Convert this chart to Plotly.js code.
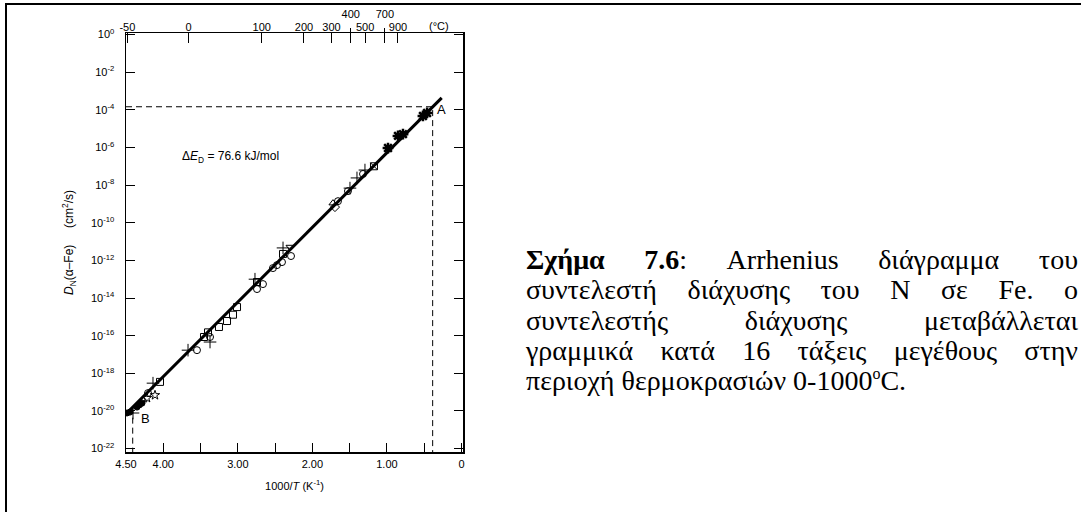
<!DOCTYPE html>
<html><head><meta charset="utf-8">
<script src="https://cdn.plot.ly/plotly-3.0.1.min.js"></script>
<style>
html,body{margin:0;padding:0;background:#fff;}
#wrap{position:relative;width:1081px;height:512px;overflow:hidden;background:#fff;}
#chart{position:absolute;left:0;top:0;width:1081px;height:512px;}
#frame{position:absolute;left:5px;top:3px;width:1200px;height:700px;border-top:2px solid #000;border-left:2px solid #000;pointer-events:none;}
#caption{position:absolute;left:526px;top:245px;width:552px;font-family:"Liberation Serif","Times New Roman",serif;font-size:28px;line-height:30.3px;color:#000;}
#caption div{text-align:justify;text-align-last:justify;white-space:normal;}
#caption div.last{text-align:left;text-align-last:left;}
#caption sup{font-size:16px;line-height:0;vertical-align:11px;}
</style>
</head><body>
<div id="wrap">
<div id="chart"></div>
<div id="frame"></div>
<div id="caption">
<div><b>Σχήμα 7.6</b>: Arrhenius διάγραμμα του</div>
<div>συντελεστή διάχυσης του Ν σε Fe. ο</div>
<div>συντελεστής διάχυσης μεταβάλλεται</div>
<div>γραμμικά κατά 16 τάξεις μεγέθους στην</div>
<div class="last">περιοχή θερμοκρασιών 0-1000<sup>o</sup>C.</div>
</div>
</div>
<script>
// ---- data: x = 1000/T (K^-1), y = D_N(alpha-Fe) (cm^2/s) ----
const circleX = [1.321, 1.523, 1.657, 2.287, 2.408, 2.475, 2.529, 2.743, 2.663, 3.373, 3.548, 4.205];
const circleY = [3.9e-8, 4.8e-9, 1.4e-9, 1.7e-12, 8.1e-13, 5.6e-13, 3.9e-13, 3.0e-14, 5.5e-14, 8.5e-17, 1.7e-17, 8.9e-20];
const squareX = [2.394, 2.743, 3.011, 3.065, 3.145, 3.253, 3.400, 3.454, 4.044];
const squareY = [2.2e-12, 7.1e-14, 3.3e-15, 1.3e-15, 6.0e-16, 2.9e-16, 1.5e-16, 8.5e-17, 3.5e-19];
const crossX = [1.402, 1.295, 1.496, 2.394, 2.770, 3.373, 3.668, 4.138, 4.406];
const crossY = [2.4e-8, 6.3e-8, 6.9e-9, 4.6e-12, 1.0e-13, 4.6e-17, 1.7e-17, 3.0e-19, 7.8e-21];
const starX = [0.517, 0.462, 0.852, 0.785, 0.986];
const starY = [4.7e-5, 6.8e-5, 4.1e-6, 5.1e-6, 9.3e-7];
const openStarX = [4.111, 4.218];
const openStarY = [6.9e-20, 4.9e-20];
const triUpX = [1.724, 4.272];
const triUpY = [1.1e-9, 3.8e-20];
const diamondX = [1.697];
const diamondY = [6.8e-10];
const triDownX = [2.300];
const triDownY = [5.1e-12];
const squareXmarkX = [1.174];
const squareXmarkY = [1.0e-7];
const dotX = [4.285, 4.320, 4.352, 4.446, 4.487];
const dotY = [2.6e-20, 2.1e-20, 1.6e-20, 8.7e-21, 7.8e-21];
const fitX = [4.487, 0.266];
const fitY = [7.8e-21, 4.3e-4];
const pointA = {x: 0.387, y: 1.45e-4};
const pointB = {x: 4.41, y: 1.5e-20};
const yFloor = 6.6e-23;   // bottom of the plotting frame
const xLeft = 4.5;

// tick labels
const yTickVals = [1, 1e-2, 1e-4, 1e-6, 1e-8, 1e-10, 1e-12, 1e-14, 1e-16, 1e-18, 1e-20, 1e-22];
const yTickText = ['10<sup>0</sup>','10<sup>-2</sup>','10<sup>-4</sup>','10<sup>-6</sup>','10<sup>-8</sup>','10<sup>-10</sup>','10<sup>-12</sup>','10<sup>-14</sup>','10<sup>-16</sup>','10<sup>-18</sup>','10<sup>-20</sup>','10<sup>-22</sup>'];
const xTickVals = [4.5, 4.0, 3.5, 3.0, 2.5, 2.0, 1.5, 1.0, 0.5, 0];
const xTickText = ['4.50', '4.00', '', '3.00', '', '2.00', '', '1.00', '', '0'];
const celsius = [-50, 0, 100, 200, 300, 400, 500, 700, 900];
const celsiusText = ['-50', '0', '100', '200', '300', '', '500', '', '900'];
const celsiusRaised = [400, 700];
const celsiusRaisedText = ['400', '700'];

const toInvT = c => 1000 / (c + 273.15);
const FONT = '"Liberation Sans", Arial, Helvetica, sans-serif';
const xRange = [4.5, -0.02];
const yRange = [-22.18, 0.08];

function mk(x, y, symbol, size, lw) {
  return {x: x, y: y, type: 'scatter', mode: 'markers', hoverinfo: 'skip',
    marker: {symbol: symbol, size: size, color: '#000', line: {color: '#000', width: lw || 1}}};
}

const traces = [
  {x: [xLeft, pointA.x, pointA.x], y: [pointA.y, pointA.y, yFloor], type: 'scatter', mode: 'lines',
   line: {color: '#000', width: 1, dash: '6px,4px'}, hoverinfo: 'skip'},
  {x: [pointB.x, pointB.x], y: [pointB.y, yFloor], type: 'scatter', mode: 'lines',
   line: {color: '#000', width: 1, dash: '6px,4px'}, hoverinfo: 'skip'},
  {x: fitX, y: fitY, type: 'scatter', mode: 'lines', line: {color: '#000', width: 3}, hoverinfo: 'skip'},
  mk(circleX, circleY, 'circle-open', 7),
  mk(squareX, squareY, 'square-open', 7),
  mk(crossX, crossY, 'cross-thin-open', 9),
  mk(starX, starY, 'asterisk-open', 9, 2.5),
  mk(openStarX, openStarY, 'star-open', 7),
  mk(triUpX, triUpY, 'triangle-up-open', 7),
  mk(diamondX, diamondY, 'diamond-open', 7),
  mk(triDownX, triDownY, 'triangle-down-open', 7),
  mk(squareXmarkX, squareXmarkY, 'square-x-open', 7),
  mk(dotX, dotY, 'circle', 6),
  {x: fitX, y: fitY, xaxis: 'x2', type: 'scatter', mode: 'lines', opacity: 0, hoverinfo: 'skip'},
  {x: fitX, y: fitY, xaxis: 'x3', type: 'scatter', mode: 'lines', opacity: 0, hoverinfo: 'skip'}
];

const layout = {
  width: 1081, height: 512,
  margin: {l: 126, r: 618, t: 33, b: 60, pad: 0},
  paper_bgcolor: 'rgba(0,0,0,0)', plot_bgcolor: 'rgba(0,0,0,0)',
  showlegend: false,
  font: {family: FONT, size: 11, color: '#000'},
  xaxis: {
    range: xRange, showgrid: false, zeroline: false,
    showline: true, linecolor: '#000', linewidth: 1.5, mirror: true,
    ticks: 'inside', ticklen: 9, tickwidth: 1, tickcolor: '#000',
    tickmode: 'array', tickvals: xTickVals, ticktext: xTickText,
    tickfont: {size: 11, color: '#000'}, ticklabelstandoff: 1,
    title: {text: '1000/<i>T</i> (K<sup>-1</sup>)', font: {size: 11}, standoff: 13},
    automargin: false
  },
  xaxis2: {
    overlaying: 'x', anchor: 'y', side: 'top', range: xRange,
    showgrid: false, zeroline: false, showline: false,
    ticks: 'inside', ticklen: 10, tickwidth: 1, tickcolor: '#000',
    tickmode: 'array', tickvals: celsius.map(toInvT), ticktext: celsiusText,
    tickfont: {size: 11, color: '#000'}, ticklabelstandoff: -1, automargin: false
  },
  xaxis3: {
    overlaying: 'x', anchor: 'y', side: 'top', range: xRange,
    showgrid: false, zeroline: false, showline: false,
    ticks: 'outside', ticklen: 4, tickwidth: 1, tickcolor: '#000',
    tickmode: 'array', tickvals: celsiusRaised.map(toInvT), ticktext: celsiusRaisedText,
    tickfont: {size: 11, color: '#000'}, ticklabelstandoff: 6, automargin: false
  },
  yaxis: {
    type: 'log', range: yRange, showgrid: false, zeroline: false,
    showline: true, linecolor: '#000', linewidth: 1.5, mirror: 'ticks',
    ticks: 'inside', ticklen: 9, tickwidth: 1, tickcolor: '#000',
    tickmode: 'array', tickvals: yTickVals, ticktext: yTickText,
    tickfont: {size: 11, color: '#000'}, ticklabelstandoff: 8,
    title: {text: '<i>D</i><sub>N</sub>(α–Fe)     (cm<sup>2</sup>/s)', font: {size: 12}, standoff: 14},
    automargin: false
  },
  annotations: [
    {xref: 'x', yref: 'y', x: 3.105, y: -6.51, text: 'Δ<i>E</i><sub>D</sub> = 76.6 kJ/mol', showarrow: false, font: {size: 12}},
    {xref: 'x', yref: 'y', x: 0.275, y: -4.01, text: 'A', showarrow: false, font: {size: 13}},
    {xref: 'x', yref: 'y', x: 4.245, y: -20.38, text: 'B', showarrow: false, font: {size: 13}},
    {xref: 'x', yref: 'paper', x: 0.30, y: 1.0, yanchor: 'bottom', yshift: -1, text: '(°C)', showarrow: false, font: {size: 11}}
  ]
};

Plotly.newPlot('chart', traces, layout, {staticPlot: true, displayModeBar: false});
</script>
</body></html>
